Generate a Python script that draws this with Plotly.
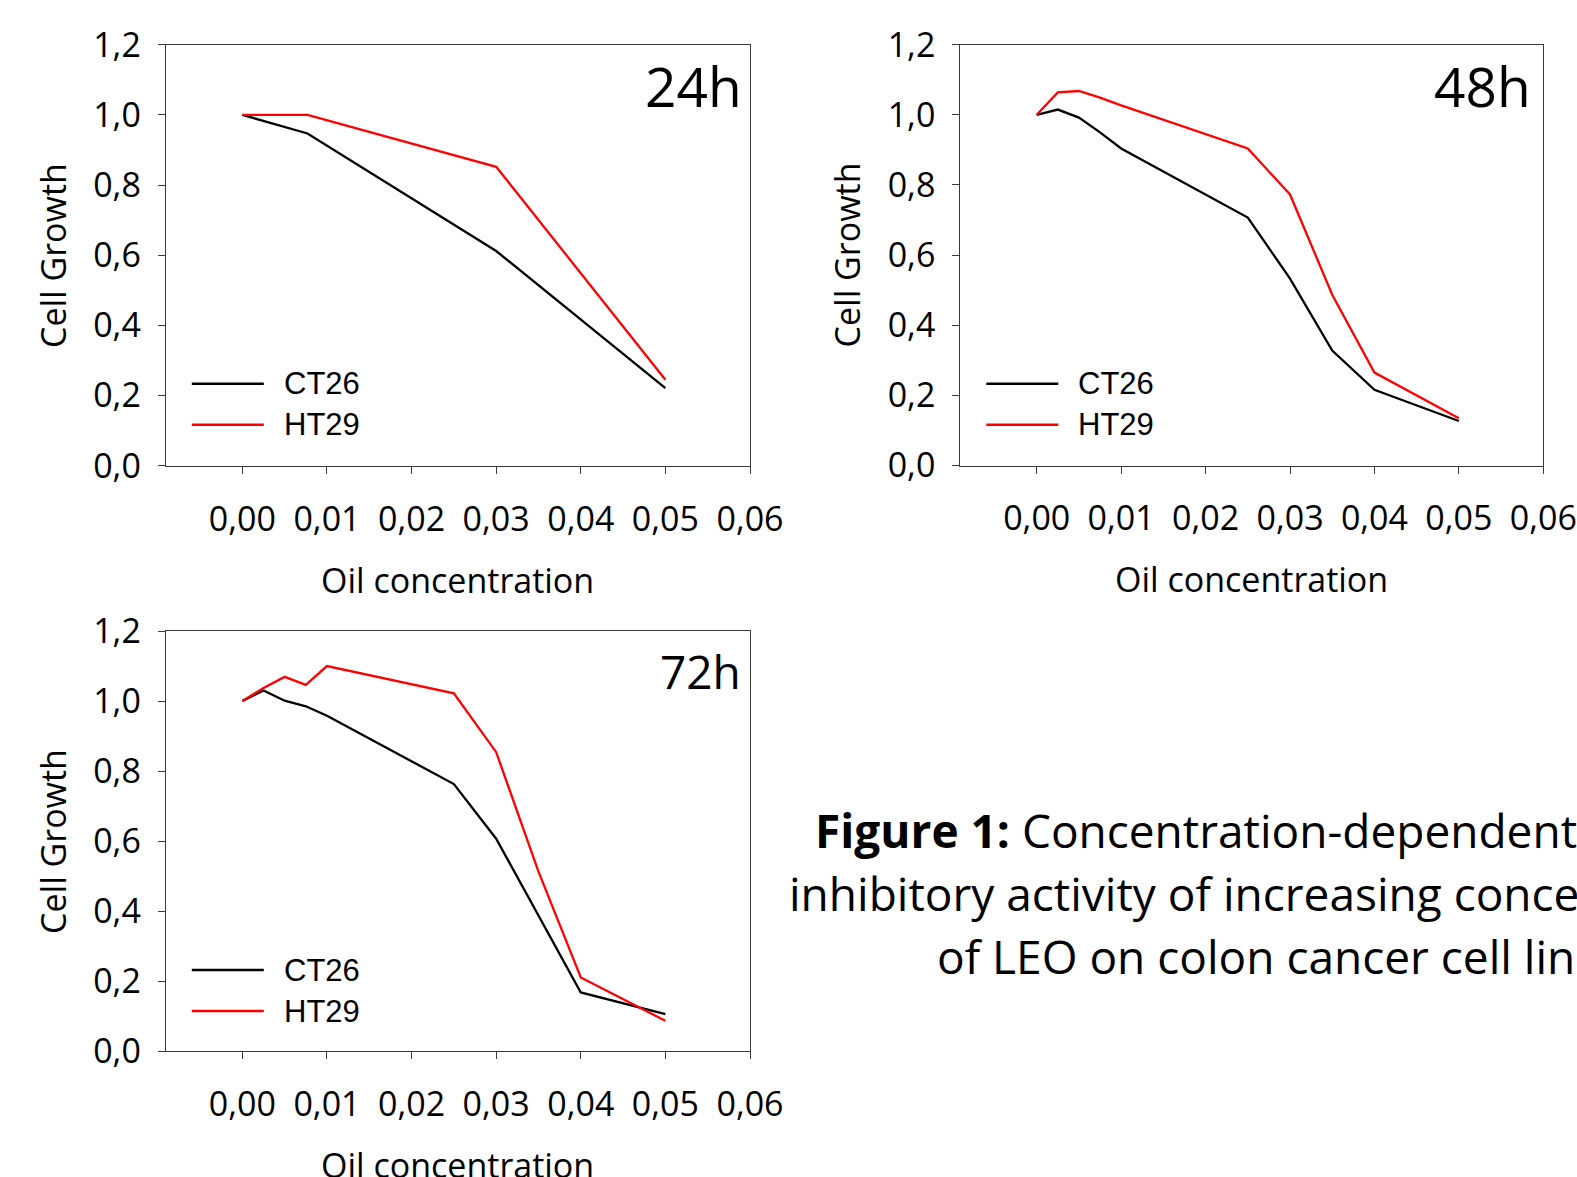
import plotly.graph_objects as go

W, H = 1577, 1177

# ---------------- data ----------------
x_24h = [0.0, 0.0077, 0.03, 0.05]
ct26_24h = [1.0, 0.947, 0.612, 0.221]
ht29_24h = [1.0, 1.0, 0.852, 0.245]

x_48h = [0.0, 0.0025, 0.005, 0.0075, 0.01, 0.025, 0.03, 0.035, 0.04, 0.05]
ct26_48h = [1.0, 1.015, 0.992, 0.950, 0.904, 0.707, 0.533, 0.328, 0.216, 0.127]
ht29_48h = [1.0, 1.064, 1.068, 1.049, 1.027, 0.904, 0.773, 0.487, 0.265, 0.135]

x_72h = [0.0, 0.0025, 0.005, 0.0075, 0.01, 0.025, 0.03, 0.035, 0.04, 0.05]
ct26_72h = [1.0, 1.030, 1.001, 0.985, 0.958, 0.763, 0.607, 0.388, 0.168, 0.106]
ht29_72h = [1.0, 1.037, 1.069, 1.046, 1.100, 1.022, 0.854, 0.513, 0.211, 0.087]

x_tickvals = [0.0, 0.01, 0.02, 0.03, 0.04, 0.05, 0.06]
x_ticktext = ["0,00", "0,01", "0,02", "0,03", "0,04", "0,05", "0,06"]
y_tickvals = [0.0, 0.2, 0.4, 0.6, 0.8, 1.0, 1.2]
y_ticktext = ["0,0", "0,2", "0,4", "0,6", "0,8", "1,0", "1,2"]

series_names = ["CT26", "HT29"]
panel_labels = ["24h", "48h", "72h"]
x_title = "Oil concentration"
y_title = "Cell Growth"
caption_lines = [
    "<b>Figure 1:</b> Concentration-dependent growth",
    "inhibitory activity of increasing concentrations",
    "of LEO on colon cancer cell lines",
]

# ---------------- layout helpers ----------------
def px(x):
    return x / W

def py(y):
    return 1 - y / H

# panel boxes in pixel coords (left, right, top, bottom)
boxes = [
    (165.8, 750.0, 44.7, 465.7),
    (960.3, 1543.3, 44.7, 465.5),
    (165.8, 750.0, 631.0, 1051.3),
]
datasets = [
    (x_24h, ct26_24h, ht29_24h),
    (x_48h, ct26_48h, ht29_48h),
    (x_72h, ct26_72h, ht29_72h),
]
label_sizes = [55, 55, 46]
label_pos = [(744, 85), (1533, 85), (743, 671)]

colors = ["#000000", "#ff0000"]
AXC = "#3a3a3a"
TICKFONT = dict(family="Open Sans", size=34, color="#000000")

fig = go.Figure()
annotations = []
shapes = []

for i, (box, data) in enumerate(zip(boxes, datasets)):
    n = "" if i == 0 else str(i + 1)
    xs, ct, ht = data
    for s, (name, yv) in enumerate(zip(series_names, [ct, ht])):
        fig.add_trace(go.Scatter(
            x=xs, y=yv, mode="lines", name=name,
            line=dict(color=colors[s], width=2.3),
            xaxis="x" + n, yaxis="y" + n, showlegend=False,
        ))
    l, r, t, b = box
    fig.update_layout(**{
        "xaxis" + n: dict(
            domain=[px(l), px(r)], anchor="y" + n, automargin=False,
            range=[-0.00905, 0.06], tickvals=x_tickvals, ticktext=x_ticktext,
            showline=True, mirror=True, linecolor=AXC, linewidth=1.3,
            ticks="outside", ticklen=7, tickcolor=AXC, tickwidth=1.2,
            showgrid=False, zeroline=False, tickfont=TICKFONT,
            ticklabelstandoff=16,
        ),
        "yaxis" + n: dict(
            domain=[py(b), py(t)], anchor="x" + n, automargin=False,
            range=[0, 1.2], tickvals=y_tickvals, ticktext=y_ticktext,
            showline=True, mirror=True, linecolor=AXC, linewidth=1.3,
            ticks="outside", ticklen=7, tickcolor=AXC, tickwidth=1.2,
            showgrid=False, zeroline=False, tickfont=TICKFONT,
            ticklabelstandoff=10,
        ),
    })
    # axis titles
    annotations.append(dict(
        x=px((l + r) / 2), y=py(b + 114), xref="paper", yref="paper",
        text=x_title, showarrow=False, xanchor="center", yanchor="middle",
        font=dict(family="Open Sans", size=34, color="#000000"),
    ))
    annotations.append(dict(
        x=px(l - 113), y=py((t + b) / 2), xref="paper", yref="paper",
        text=y_title, showarrow=False, textangle=-90,
        xanchor="center", yanchor="middle",
        font=dict(family="Open Sans", size=34, color="#000000"),
    ))
    # panel label
    lx, ly = label_pos[i]
    annotations.append(dict(
        x=px(lx), y=py(ly), xref="paper", yref="paper",
        text=panel_labels[i], showarrow=False, xanchor="right", yanchor="middle",
        font=dict(family="Open Sans", size=label_sizes[i], color="#000000"),
    ))
    # legend
    for s, name in enumerate(series_names):
        yy = t + 339 + 41 * s
        shapes.append(dict(
            type="line", xref="paper", yref="paper",
            x0=px(l + 26), x1=px(l + 98), y0=py(yy), y1=py(yy),
            line=dict(color=colors[s], width=2.6),
        ))
        annotations.append(dict(
            x=px(l + 116), y=py(yy), xref="paper", yref="paper",
            text=name, showarrow=False, xanchor="left", yanchor="middle",
            font=dict(family="Liberation Sans", size=31, color="#000000"),
        ))

# caption
cap_x = [813, 787, 935]
cap_y = [830, 893, 956]
for txt, cx, cy in zip(caption_lines, cap_x, cap_y):
    annotations.append(dict(
        x=px(cx), y=py(cy), xref="paper", yref="paper",
        text=txt, showarrow=False, xanchor="left", yanchor="middle",
        font=dict(family="Open Sans", size=46, color="#000000"),
    ))

fig.update_layout(
    width=W, height=H, margin=dict(l=0, r=0, t=0, b=0, autoexpand=False),
    paper_bgcolor="white", plot_bgcolor="white",
    annotations=annotations, shapes=shapes, showlegend=False,
)

fig.write_html("out.html", config={"displayModeBar": False})
